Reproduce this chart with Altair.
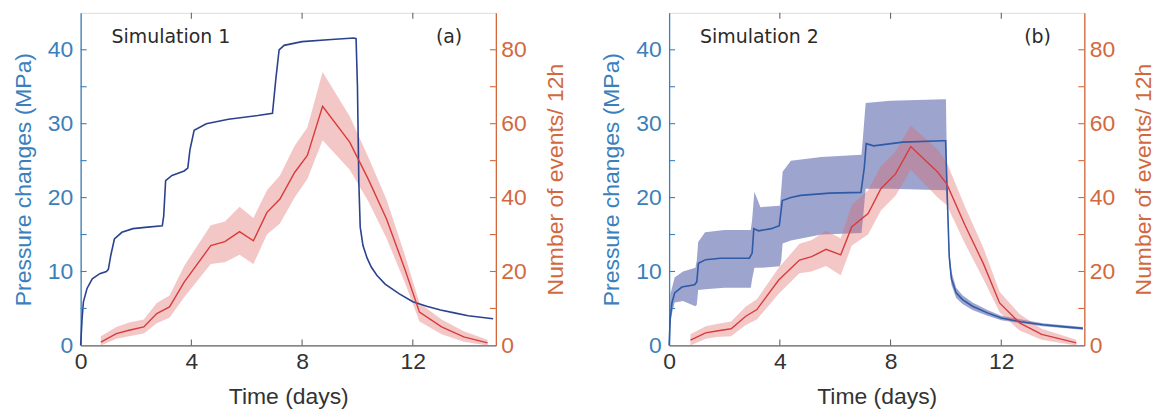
import altair as alt
import pandas as pd

# ---------------- data ----------------
# Panel (a) – Simulation 1: pressure change (MPa)
pa_day = [0, 0.05, 0.1, 0.23, 0.42, 0.69, 0.93, 1.0, 1.09, 1.22, 1.49, 1.89, 2.42, 2.95,
          3.0, 3.07, 3.3, 3.74, 3.87, 3.95, 4.1, 4.54, 5.34, 6.4, 6.93, 7.05, 7.17, 7.35,
          8.0, 9.06, 9.87, 9.95, 10.0, 10.05, 10.1, 10.2, 10.35, 10.5, 10.7, 11.0, 11.5,
          12.0, 12.5, 13.0, 13.5, 14.0, 14.9]
pa_val = [0, 3.5, 5.9, 7.7, 9.0, 9.7, 10.0, 10.3, 12.2, 14.4, 15.3, 15.8, 16.0, 16.2,
          17.5, 22.3, 23.0, 23.6, 24.0, 26.5, 29.1, 30.0, 30.6, 31.1, 31.4, 36.0, 40.0, 40.6,
          41.1, 41.4, 41.6, 41.5, 35.0, 22.0, 16.0, 13.5, 11.8, 10.6, 9.5, 8.3, 7.0,
          5.9, 5.3, 4.8, 4.4, 4.0, 3.6]

# Panel (a) – events / 12h with spread
ea_day = [0.73, 1.29, 1.75, 2.28, 2.75, 3.21, 3.74, 4.70, 5.21, 5.74, 6.24, 6.73, 7.20,
          7.73, 8.19, 8.74, 9.72, 10.39, 11.05, 11.71, 12.24, 13.04, 13.84, 14.70]
ea_val = [0.9, 3.2, 4.1, 5.0, 8.6, 10.4, 17.1, 27.0, 28.1, 30.8, 28.3, 36.0, 39.6,
          46.8, 51.4, 64.7, 55.0, 45.0, 34.2, 20.7, 9.0, 5.0, 2.3, 0.7]
ea_lo = [0.0, 1.8, 2.5, 3.2, 6.0, 7.5, 13.0, 22.0, 22.5, 24.5, 22.0, 30.0, 33.0,
         40.0, 45.0, 55.5, 47.5, 39.0, 29.0, 17.0, 6.5, 3.0, 1.0, 0.0]
ea_hi = [2.5, 5.0, 6.2, 7.0, 11.5, 13.5, 21.5, 32.5, 33.5, 37.5, 34.5, 42.0, 46.0,
         54.0, 59.0, 74.0, 62.0, 51.0, 39.5, 24.5, 11.5, 7.0, 3.8, 1.5]

# Panel (b) – Simulation 2: pressure change (MPa)
pb_day = [0, 0.04, 0.1, 0.2, 0.46, 0.92, 1.0, 1.06, 1.32, 1.85, 2.9, 3.0, 3.06, 3.23,
          3.69, 3.98, 4.09, 4.4, 4.75, 5.8, 6.93, 7.05, 7.12, 7.39, 8.44, 9.89, 9.99,
          10.05, 10.12, 10.2, 10.37, 10.6, 10.96, 11.5, 12.0, 12.7, 13.5, 14.3, 14.95]
pb_val = [0, 3.5, 5.7, 7.1, 7.9, 8.2, 8.6, 11.1, 11.6, 11.8, 11.8, 12.5, 15.8, 15.5,
          15.8, 16.2, 19.6, 20.0, 20.3, 20.6, 20.7, 24.0, 27.3, 27.0, 27.5, 27.7, 27.7,
          20.0, 12.0, 9.0, 7.1, 6.2, 5.3, 4.4, 3.7, 3.2, 2.8, 2.5, 2.3]

# Panel (b) – pressure spread
pbb_day = [0, 0.05, 0.2, 0.5, 0.95, 1.0, 1.05, 1.3, 2.0, 2.95, 3.0, 3.08, 3.3, 4.0,
           4.05, 4.1, 4.4, 5.5, 6.95, 7.0, 7.1, 8.0, 9.95, 10.0, 10.05, 10.12, 10.2,
           10.37, 10.6, 10.96, 11.5, 12.0, 13.5, 14.95]
pbb_lo = [0, 3.5, 5.8, 6.0, 5.3, 5.5, 7.5, 7.6, 7.8, 7.8, 9.0, 10.5, 10.5, 10.7,
          11.5, 13.8, 14.2, 15.0, 15.2, 17.0, 21.2, 21.2, 21.0, 21.0, 18.5, 11.0, 8.2,
          6.4, 5.6, 4.8, 4.0, 3.4, 2.6, 2.1]
pbb_hi = [0, 7.0, 9.2, 10.0, 10.5, 11.5, 14.0, 15.3, 15.6, 15.6, 17.0, 20.8, 18.7, 18.9,
          21.0, 23.5, 25.0, 25.5, 25.8, 28.0, 32.8, 33.1, 33.3, 33.3, 21.5, 13.0, 10.0,
          7.8, 6.8, 5.8, 4.8, 4.0, 3.0, 2.5]

# Panel (b) – events / 12h with spread
eb_day = [0.77, 1.32, 1.72, 2.24, 2.77, 3.17, 3.96, 4.71, 5.15, 5.67, 6.2, 6.6, 7.19,
          7.65, 8.18, 8.73, 9.7, 10.03, 10.69, 11.35, 11.94, 12.66, 13.46, 14.71]
eb_val = [1.4, 3.4, 3.9, 4.5, 7.9, 9.7, 17.7, 23.1, 24.0, 26.0, 24.5, 32.1, 35.7,
          42.4, 46.4, 53.8, 46.9, 43.7, 32.5, 22.2, 11.5, 6.1, 3.0, 0.7]
eb_lo = [0.0, 1.8, 2.3, 2.5, 5.5, 7.0, 14.0, 19.5, 20.0, 21.5, 19.0, 27.0, 30.0,
         36.5, 40.5, 47.5, 40.0, 38.0, 27.5, 18.0, 9.0, 4.0, 1.5, 0.0]
eb_hi = [3.0, 5.2, 5.8, 6.5, 10.5, 12.5, 21.0, 27.5, 28.5, 31.0, 29.0, 38.0, 42.0,
         48.5, 52.5, 59.5, 53.0, 49.5, 37.5, 26.5, 14.5, 8.5, 4.5, 1.5]

x_ticks = [0, 4, 8, 12]
p_ticks = [0, 10, 20, 30, 40]
e_ticks = [0, 20, 40, 60, 80]
p_minor = [5, 10, 15, 20, 25, 30, 35, 40]
x_minor = [4, 8, 12]

# ---------------- styling ----------------
W, H = 417, 334
FONT = "Liberation Sans"
FS = 23
AX_BLUE = "#3a80bc"
AX_ORANGE = "#d2693e"
AX_GRAY = "#666666"
RED = "#d93a3a"
TICK = 6


def x_enc():
    return alt.X("day:Q", scale=alt.Scale(domain=[0, 15], nice=False, zero=False),
                 axis=alt.Axis(values=x_ticks, ticks=False, grid=False, domainColor=AX_GRAY,
                               domainWidth=1.2, labelColor="#333333", titleColor="#333333",
                               labelFont=FONT, titleFont=FONT, labelFontSize=FS,
                               titleFontSize=FS, titleFontWeight="normal", labelPadding=5,
                               titlePadding=12, labelFlush=False),
                 title="Time (days)")


P_SCALE = alt.Scale(domain=[0, 45], nice=False, zero=False)
E_SCALE = alt.Scale(domain=[0, 90], nice=False, zero=False)

P_AXIS = alt.Axis(orient="left", values=p_ticks, ticks=False, grid=False,
                  domainColor=AX_BLUE, domainWidth=1.3, labelColor=AX_BLUE,
                  titleColor=AX_BLUE, labelFont=FONT, titleFont=FONT, labelFontSize=FS,
                  titleFontSize=FS, titleFontWeight="normal", labelPadding=8,
                  titlePadding=12, labelFlush=False)
E_AXIS = alt.Axis(orient="right", values=e_ticks, ticks=False, grid=False,
                  domainColor=AX_ORANGE, domainWidth=1.3, labelColor=AX_ORANGE,
                  titleColor=AX_ORANGE, labelFont=FONT, titleFont=FONT, labelFontSize=FS,
                  titleFontSize=FS, titleFontWeight="normal", labelPadding=5,
                  titlePadding=18, titleAngle=270, titleBaseline="top", labelFlush=False)


def panel(p_day, p_val, e_day, e_val, e_lo, e_hi, name, tag, line_color,
          pb_d=None, pb_lo=None, pb_hi=None):
    pdf = pd.DataFrame({"day": p_day, "p": p_val})
    edf = pd.DataFrame({"day": e_day, "e": e_val, "lo": e_lo, "hi": e_hi})
    layers = []

    if pb_d is not None:
        bdf = pd.DataFrame({"day": pb_d, "lo": pb_lo, "hi": pb_hi})
        layers.append(alt.Chart(bdf).mark_area(color="#3b4a9e", opacity=0.5).encode(
            x=x_enc(), y=alt.Y("lo:Q", scale=P_SCALE, axis=None), y2="hi:Q"))

    layers.append(alt.Chart(edf).mark_area(color="#e06666", opacity=0.37).encode(
        x=x_enc(), y=alt.Y("lo:Q", scale=E_SCALE, axis=None), y2="hi:Q"))

    layers.append(alt.Chart(pdf).mark_line(color=line_color, strokeWidth=1.6).encode(
        x=x_enc(), y=alt.Y("p:Q", scale=P_SCALE, axis=P_AXIS,
                           title="Pressure changes (MPa)")))

    layers.append(alt.Chart(edf).mark_line(color=RED, strokeWidth=1.4).encode(
        x=x_enc(), y=alt.Y("e:Q", scale=E_SCALE, axis=E_AXIS,
                           title="Number of events/ 12h")))

    # inward tick marks
    ldf = pd.DataFrame({"v": p_minor})
    layers.append(alt.Chart(ldf).mark_rule(color=AX_BLUE, strokeWidth=1.1).encode(
        y=alt.Y("v:Q", scale=P_SCALE, axis=None), x=alt.value(0), x2=alt.value(TICK)))
    layers.append(alt.Chart(ldf).mark_rule(color=AX_ORANGE, strokeWidth=1.1).encode(
        y=alt.Y("v:Q", scale=P_SCALE, axis=None), x=alt.value(W - TICK), x2=alt.value(W)))
    xdf = pd.DataFrame({"day": x_minor})
    layers.append(alt.Chart(xdf).mark_rule(color=AX_GRAY, strokeWidth=1.1).encode(
        x=x_enc(), y=alt.value(0), y2=alt.value(TICK)))
    layers.append(alt.Chart(xdf).mark_rule(color=AX_GRAY, strokeWidth=1.1).encode(
        x=x_enc(), y=alt.value(H - TICK), y2=alt.value(H)))

    # annotations
    layers.append(alt.Chart(pd.DataFrame({"t": [name]})).mark_text(
        font="DejaVu Sans", fontSize=19, color="#2a2a2a", align="left",
        baseline="middle").encode(text="t:N", x=alt.value(31), y=alt.value(24)))
    layers.append(alt.Chart(pd.DataFrame({"t": [tag]})).mark_text(
        font="DejaVu Sans", fontSize=19, color="#2a2a2a", align="center",
        baseline="middle").encode(text="t:N", x=alt.value(370), y=alt.value(24)))

    return alt.layer(*layers).resolve_scale(y="independent").properties(width=W, height=H)


pa = panel(pa_day, pa_val, ea_day, ea_val, ea_lo, ea_hi, "Simulation 1", "(a)", "#2b428f")
pb = panel(pb_day, pb_val, eb_day, eb_val, eb_lo, eb_hi, "Simulation 2", "(b)", "#2f5aa6",
           pbb_day, pbb_lo, pbb_hi)

chart = alt.hconcat(pa, pb, spacing=31).properties(
    padding={"left": 11, "top": 10, "right": 0, "bottom": 0}
).configure_view(stroke=AX_GRAY, strokeWidth=1.2).configure(background="white")

chart.save("out.html", embed_options={"renderer": "svg", "actions": False})
